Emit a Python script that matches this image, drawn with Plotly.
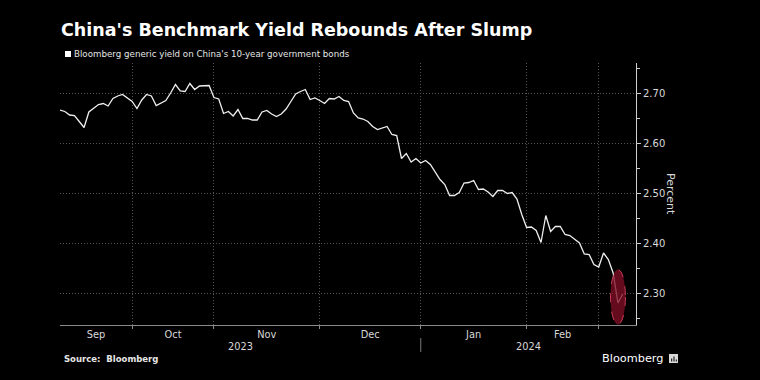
import plotly.graph_objects as go

# ---- data ----
yields = [
    2.666, 2.663, 2.656, 2.655, 2.643, 2.631, 2.662, 2.669, 2.677, 2.679,
    2.674, 2.689, 2.694, 2.697, 2.690, 2.683, 2.669, 2.686, 2.697, 2.694,
    2.675, 2.680, 2.685, 2.700, 2.717, 2.704, 2.703, 2.719, 2.707, 2.714,
    2.715, 2.715, 2.691, 2.688, 2.659, 2.663, 2.654, 2.667, 2.649, 2.649,
    2.646, 2.646, 2.662, 2.665, 2.658, 2.653, 2.658, 2.668, 2.683, 2.698,
    2.703, 2.707, 2.687, 2.690, 2.685, 2.679, 2.689, 2.688, 2.693, 2.685,
    2.683, 2.660, 2.650, 2.648, 2.643, 2.633, 2.627, 2.630, 2.633, 2.617,
    2.615, 2.569, 2.579, 2.562, 2.569, 2.560, 2.565, 2.557, 2.541, 2.527,
    2.517, 2.495, 2.495, 2.501, 2.520, 2.521, 2.525, 2.507, 2.508, 2.502,
    2.493, 2.505, 2.505, 2.499, 2.501, 2.488, 2.457, 2.431, 2.432, 2.425,
    2.401, 2.455, 2.423, 2.433, 2.433, 2.417, 2.415, 2.407, 2.400, 2.378,
    2.377, 2.357, 2.352, 2.380, 2.367, 2.340, 2.280, 2.298,
]
months = ["Sep", "Oct", "Nov", "Dec", "Jan", "Feb", "Mar"]
month_start_idx = [0, 15, 32, 54, 75, 97, 112]   # trading-day index of month start
years = ["2023", "2024"]
year_start_idx = [0, 75]
y_ticks = [2.30, 2.40, 2.50, 2.60, 2.70]

X_END = 119.75
Y_RANGE = [2.236, 2.76]

x = list(range(len(yields)))

bounds = month_start_idx + [X_END]
label_pos = [(bounds[i] + bounds[i + 1]) / 2 for i in range(len(months) - 1)]
label_txt = months[:-1]

FONT = "DejaVu Sans"
TXT = "#d9d9d9"
GRID = "#555555"
DOTS = "1px,2px"

fig = go.Figure()
fig.add_trace(go.Scatter(
    x=x, y=yields, mode="lines",
    line=dict(color="#efefef", width=1.3),
    hoverinfo="skip", showlegend=False,
))

fig.update_layout(
    width=760, height=380,
    margin=dict(l=60, r=124, t=63, b=55),
    paper_bgcolor="#000000", plot_bgcolor="#000000",
    font=dict(family=FONT, color=TXT, size=10),
    showlegend=False,
)

fig.update_xaxes(
    range=[0, X_END],
    tickmode="array", tickvals=label_pos, ticktext=label_txt,
    ticks="", showgrid=False, zeroline=False,
    showline=True, linecolor="#8a8a8a", linewidth=1,
    tickfont=dict(size=9.8, color=TXT, family=FONT),
    minor=dict(tickmode="array", tickvals=month_start_idx[1:],
               showgrid=True, gridcolor=GRID, griddash=DOTS, gridwidth=1,
               ticks="outside", ticklen=3, tickcolor="#8a8a8a"),
)

fig.update_yaxes(
    side="right", range=Y_RANGE,
    tickmode="array", tickvals=y_ticks, tickformat=".2f",
    ticks="outside", ticklen=4, tickcolor="#cfcfcf", tickwidth=1,
    showgrid=True, gridcolor=GRID, griddash=DOTS, gridwidth=1,
    zeroline=False, showline=True, linecolor="#cfcfcf", linewidth=1,
    tickfont=dict(size=10, color=TXT, family=FONT),
    minor=dict(tick0=2.25, dtick=0.1, ticks="outside", ticklen=3,
               tickcolor="#cfcfcf", showgrid=False),
)

def px_x(p):
    return (p - 60) / 576.0

def px_y(p):
    return (325 - p) / 262.0

ann = []
ann.append(dict(text="<b>China's Benchmark Yield Rebounds After Slump</b>",
                xref="paper", yref="paper", x=px_x(59), y=px_y(30),
                xanchor="left", yanchor="middle", showarrow=False,
                font=dict(family=FONT, size=17.5, color="#ffffff")))
ann.append(dict(text="Bloomberg generic yield on China's 10-year government bonds",
                xref="paper", yref="paper", x=px_x(72), y=px_y(54),
                xanchor="left", yanchor="middle", showarrow=False,
                font=dict(family=FONT, size=8.7, color="#e6e6e6")))
ann.append(dict(text="<b>Source:  Bloomberg</b>",
                xref="paper", yref="paper", x=px_x(62), y=px_y(359),
                xanchor="left", yanchor="middle", showarrow=False,
                font=dict(family=FONT, size=8.5, color="#e6e6e6")))
ann.append(dict(text="Bloomberg",
                xref="paper", yref="paper", x=px_x(600), y=px_y(358),
                xanchor="left", yanchor="middle", showarrow=False,
                font=dict(family=FONT, size=11.3, color="#ffffff")))
ann.append(dict(text="Percent", textangle=90,
                xref="paper", yref="paper", x=px_x(671), y=px_y(194),
                xanchor="center", yanchor="middle", showarrow=False,
                font=dict(family=FONT, size=11, color=TXT)))

ybounds = year_start_idx + [X_END]
for i, yr in enumerate(years):
    ann.append(dict(text=yr, xref="x", yref="paper",
                    x=(ybounds[i] + ybounds[i + 1]) / 2, y=px_y(346),
                    xanchor="center", yanchor="middle", showarrow=False,
                    font=dict(family=FONT, size=9.8, color=TXT)))

shapes = []
for s in year_start_idx[1:]:
    shapes.append(dict(type="line", xref="x", yref="paper", x0=s, x1=s,
                       y0=px_y(338), y1=px_y(352),
                       line=dict(color="#7a7a7a", width=1)))
shapes.append(dict(type="rect", xref="paper", yref="paper",
                   x0=px_x(65), x1=px_x(71), y0=px_y(57), y1=px_y(51),
                   fillcolor="#ffffff", line=dict(width=0)))
i_min = yields.index(min(yields))
shapes.append(dict(type="circle", xref="x", yref="y", layer="above",
                   x0=i_min - 1.55, x1=i_min + 1.55,
                   y0=min(yields) - 0.043, y1=min(yields) + 0.067,
                   fillcolor="rgba(128,14,38,0.78)",
                   line=dict(color="#c83c55", width=1, dash="dash")))
shapes.append(dict(type="rect", xref="paper", yref="paper",
                   x0=px_x(669), x1=px_x(678), y0=px_y(363), y1=px_y(354),
                   fillcolor="#d9d9d9", line=dict(width=0)))
for bx, top in [(671.2, 358.5), (673.5, 356.5), (675.8, 359.5)]:
    shapes.append(dict(type="rect", xref="paper", yref="paper",
                       x0=px_x(bx), x1=px_x(bx + 1), y0=px_y(361.5), y1=px_y(top),
                       fillcolor="#000000", line=dict(width=0)))

fig.update_layout(annotations=ann, shapes=shapes)

fig.write_html(
    "out.html",
    config={"displayModeBar": False, "staticPlot": True},
    post_script="document.body.style.margin='0';document.body.style.background='#000';",
)
